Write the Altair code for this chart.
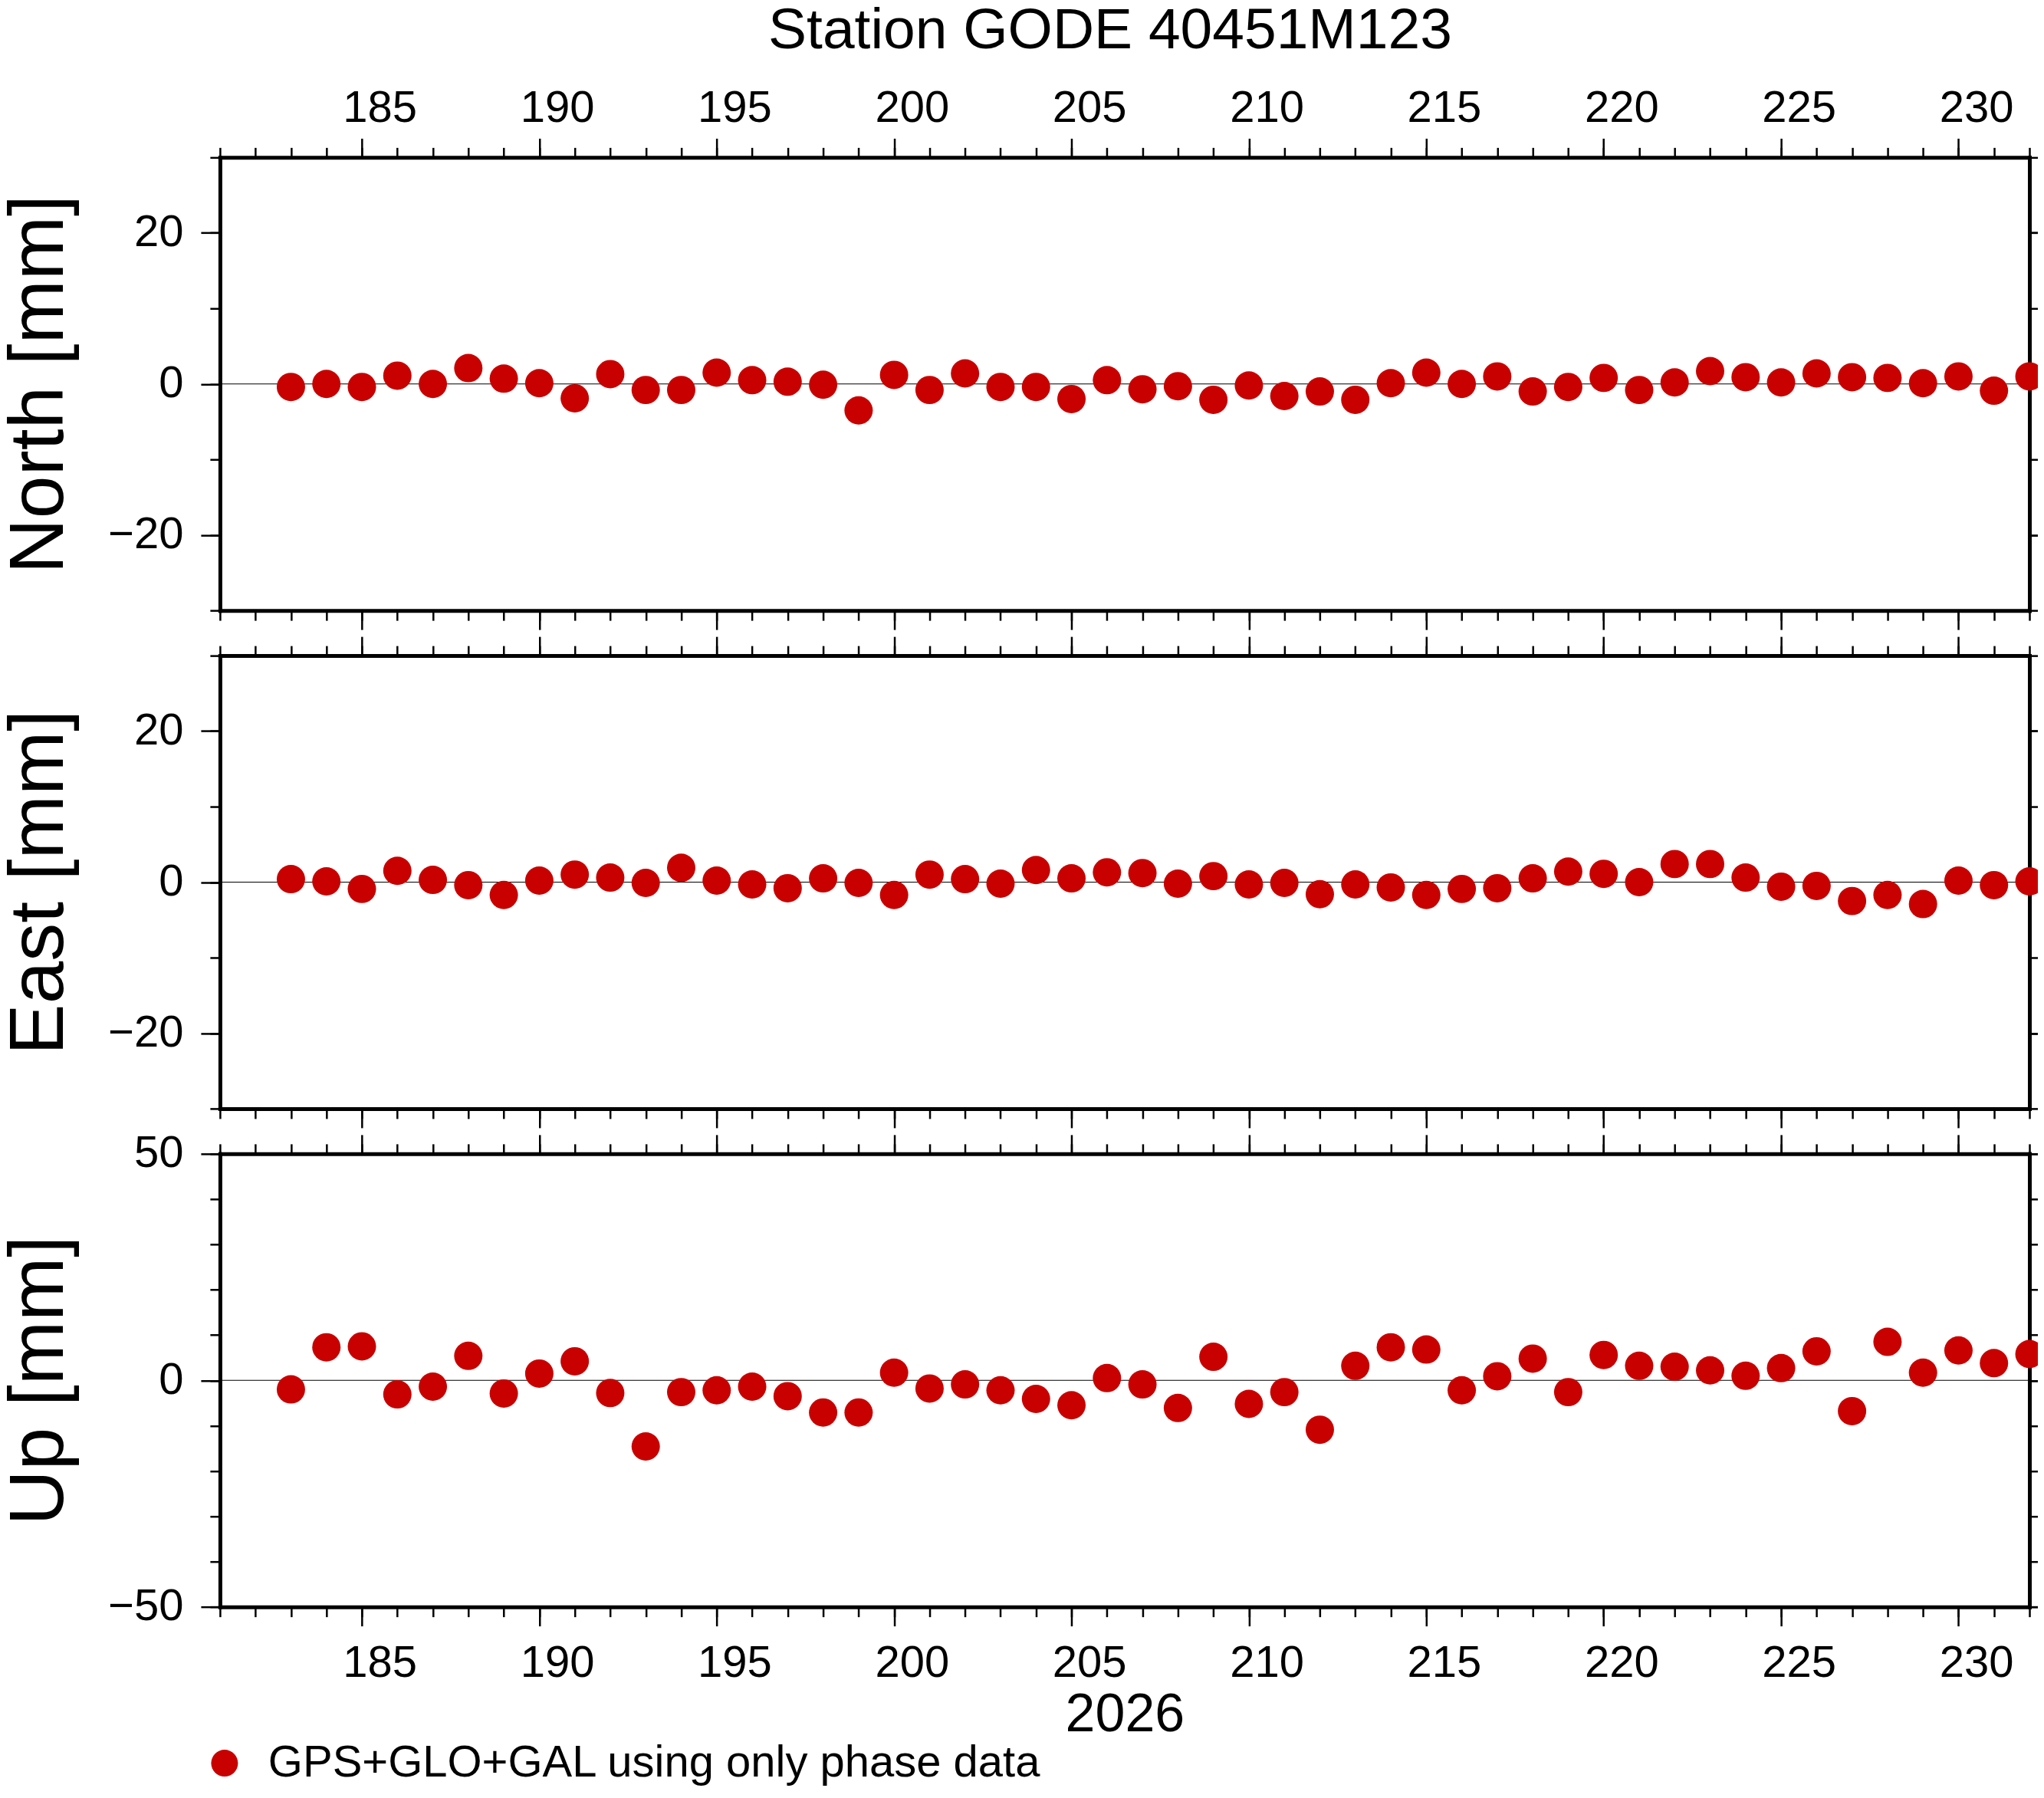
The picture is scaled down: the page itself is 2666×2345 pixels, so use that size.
import altair as alt
import pandas as pd

# ---------------- data ----------------
days = list(range(183, 233))
north = [-0.4, 0.0, -0.4, 1.1, 0.0, 2.1, 0.7, 0.1, -1.9, 1.3,
         -0.8, -0.8, 1.5, 0.5, 0.3, -0.1, -3.5, 1.2, -0.8, 1.4,
         -0.4, -0.4, -2.0, 0.5, -0.7, -0.3, -2.1, -0.2, -1.6, -1.0,
         -2.1, 0.1, 1.5, 0.0, 1.0, -1.0, -0.4, 0.8, -0.8, 0.2,
         1.7, 0.9, 0.2, 1.4, 0.9, 0.8, 0.1, 1.0, -0.9, 1.0]
east = [0.4, 0.1, -0.9, 1.5, 0.3, -0.4, -1.7, 0.2, 1.0, 0.6,
        -0.1, 1.9, 0.2, -0.3, -0.8, 0.5, -0.1, -1.7, 1.0, 0.4,
        -0.2, 1.6, 0.5, 1.3, 1.2, -0.2, 0.8, -0.3, -0.1, -1.6,
        -0.3, -0.7, -1.7, -0.9, -0.8, 0.5, 1.4, 1.1, 0.0, 2.4,
        2.4, 0.6, -0.6, -0.5, -2.5, -1.7, -2.9, 0.2, -0.4, 0.1]
up = [-2.0, 7.3, 7.5, -3.1, -1.4, 5.4, -2.9, 1.5, 4.2, -2.8,
      -14.6, -2.6, -2.2, -1.4, -3.5, -7.1, -7.1, 1.7, -1.8, -0.9,
      -2.2, -4.1, -5.5, 0.5, -0.9, -6.1, 5.2, -5.2, -2.6, -10.9,
      3.2, 7.3, 6.8, -2.2, 0.9, 4.8, -2.6, 5.6, 3.2, 3.0,
      2.2, 1.0, 2.7, 6.4, -6.8, 8.5, 1.7, 6.6, 3.8, 5.8]

SERIES = "GPS+GLO+GAL using only phase data"
TITLE = "Station GODE 40451M123"
YEAR_LABEL = "2026"
x_domain = [181, 232]
x_major = [185, 190, 195, 200, 205, 210, 215, 220, 225, 230]
x_minor = list(range(181, 233))
ne_domain = [-30, 30]
ne_major = [-20, 0, 20]
ne_minor = [-30, -20, -10, 0, 10, 20, 30]
up_domain = [-50, 50]
up_major = [-50, 0, 50]
up_minor = [-50, -40, -30, -20, -10, 0, 10, 20, 30, 40, 50]

# ---------------- style ----------------
FONT = "Liberation Sans"
RED = "#c80000"
W, H = 2361, 591
DAYW = W / 51.0
LBL = 58
MAJ, MIN = 25, 13


def xaxis(orient, values, size, labels, domain, title=None):
    kw = dict(orient=orient, values=values, tickSize=size, tickWidth=2.5,
              tickColor="black", labels=labels, domain=domain, domainWidth=5,
              domainColor="black", domainCap="square", grid=False,
              labelFont=FONT, labelFontSize=LBL, labelColor="black",
              labelOffset=DAYW / 2, labelPadding=(10 if orient == "top" else 20),
              labelFlush=False, labelOverlap=False, title=title)
    if title:
        kw.update(titleFont=FONT, titleFontSize=70, titleFontWeight="normal",
                  titleColor="black", titleX=W / 2, titleY=162,
                  titleBaseline="alphabetic", titleAlign="center")
    return alt.Axis(**kw)


def yaxis(orient, values, size, labels, domain, title=None):
    kw = dict(orient=orient, values=values, tickSize=size, tickWidth=2.5,
              tickColor="black", labels=labels, domain=domain, domainWidth=5,
              domainColor="black", domainCap="square", grid=False,
              labelFont=FONT, labelFontSize=LBL, labelColor="black",
              labelPadding=23, labelFlush=False, labelOverlap=False, title=title)
    if title:
        kw.update(titleFont=FONT, titleFontSize=100, titleFontWeight="normal",
                  titleColor="black", titleX=-205.5, titleY=H / 2,
                  titleAngle=270, titleBaseline="alphabetic", titleAlign="center")
    return alt.Axis(**kw)


def panel(values, ytitle, ydom, ymaj, ymin, top_labels=False,
          bottom_labels=False, xtitle=None):
    df = pd.DataFrame({"day": days, "val": values,
                       "series": [SERIES] * len(days)})
    zero = pd.DataFrame({"day": x_domain, "val": [0, 0]})
    xs = alt.Scale(domain=x_domain, nice=False, zero=False)
    ys = alt.Scale(domain=ydom, nice=False, zero=False)

    zero_line = alt.Chart(zero).mark_line(color="black", strokeWidth=1.2).encode(
        x=alt.X("day:Q", scale=xs, axis=xaxis("bottom", x_minor, MIN, False, False)),
        y=alt.Y("val:Q", scale=ys, axis=yaxis("left", ymin, MIN, False, False)),
    )
    pts = alt.Chart(df).mark_circle(size=1369, opacity=1).encode(
        x=alt.X("day:Q", scale=xs,
                axis=xaxis("bottom", x_major, MAJ, bottom_labels, True, xtitle)),
        y=alt.Y("val:Q", scale=ys, axis=yaxis("left", ymaj, MAJ, True, True, ytitle)),
        color=alt.Color("series:N",
                        scale=alt.Scale(domain=[SERIES], range=[RED]),
                        legend=alt.Legend(orient="none", legendX=-23, legendY=2066,
                                          title=None, labelFont=FONT,
                                          labelFontSize=LBL, labelColor="black",
                                          symbolSize=1225, symbolType="circle",
                                          symbolStrokeWidth=0, labelOffset=28,
                                          labelLimit=3000, padding=0)),
    )
    top_major = alt.Chart(zero).mark_point(opacity=0).encode(
        x=alt.X("day:Q", scale=xs, axis=xaxis("top", x_major, MAJ, top_labels, True)),
        y=alt.Y("val:Q", scale=ys, axis=yaxis("right", ymaj, MAJ, False, True)),
    )
    top_minor = alt.Chart(zero).mark_point(opacity=0).encode(
        x=alt.X("day:Q", scale=xs, axis=xaxis("top", x_minor, MIN, False, False)),
        y=alt.Y("val:Q", scale=ys, axis=yaxis("right", ymin, MIN, False, False)),
    )
    return alt.layer(zero_line, pts, top_major, top_minor).resolve_axis(
        x="independent", y="independent").properties(width=W, height=H)


p1 = panel(north, "North [mm]", ne_domain, ne_major, ne_minor, top_labels=True).properties(
    title=alt.TitleParams(TITLE, font=FONT, fontSize=75, fontWeight="normal",
                          color="black", anchor="middle", offset=-26,
                          baseline="alphabetic", dx=-19))
p2 = panel(east, "East [mm]", ne_domain, ne_major, ne_minor)
p3 = panel(up, "Up [mm]", up_domain, up_major, up_minor, bottom_labels=True,
           xtitle=YEAR_LABEL)

chart = alt.vconcat(p1, p2, p3, spacing=59, bounds="flush").resolve_scale(
    x="independent", y="independent").properties(
    padding={"left": -7, "top": -6, "right": -16, "bottom": 0}
).configure_view(strokeWidth=0).configure(font=FONT, background="white")

chart.save("out.html", embed_options={"renderer": "svg", "actions": False})
